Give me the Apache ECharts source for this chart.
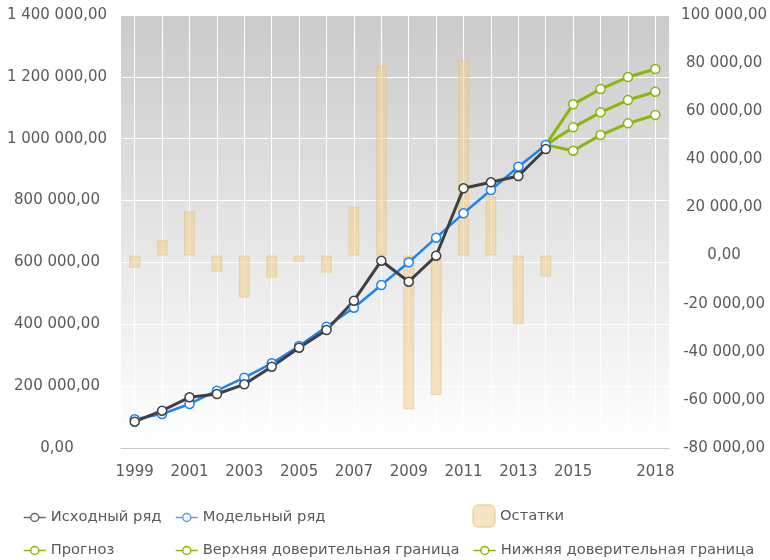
<!DOCTYPE html>
<html><head><meta charset="utf-8">
<script src="https://cdn.jsdelivr.net/npm/echarts@6/dist/echarts.min.js"></script>
<style>html,body{margin:0;padding:0;background:#fff}#c{width:770px;height:560px}</style>
</head><body><div id="c"></div>
<script>
const years = ['1999','2000','2001','2002','2003','2004','2005','2006','2007','2008','2009','2010','2011','2012','2013','2014','2015','2016','2017','2018'];
const actual = [85000,120600,163900,174600,205900,262900,324300,381500,476300,605600,537700,621700,839600,859000,879400,966700,null,null,null,null];
const model = [92800,109900,142300,185300,227300,273800,329800,392200,453600,527000,600300,680000,758800,834100,909500,979600,null,null,null,null];
const residuals = [-5100,6400,18400,-6700,-17500,-9200,-2700,-7100,20400,78800,-63900,-58000,81300,24700,-28600,-8700,null,null,null,null];
const forecast = [null,null,null,null,null,null,null,null,null,null,null,null,null,null,null,980000,1036700,1085300,1125100,1152000];
const upper = [null,null,null,null,null,null,null,null,null,null,null,null,null,null,null,980000,1111200,1160600,1199400,1225300];
const lower = [null,null,null,null,null,null,null,null,null,null,null,null,null,null,null,980000,961200,1011900,1049700,1076600];
const shownYearLabels = ['1999','2001','2003','2005','2007','2009','2011','2013','2015','2018'];
const names = {
  actual: 'Исходный ряд', model: 'Модельный ряд', resid: 'Остатки',
  forecast: 'Прогноз', upper: 'Верхняя доверительная граница', lower: 'Нижняя доверительная граница'
};

const FONT = 'DejaVu Sans';
const TXT = '#5a5a5a';
const GREEN = '#8ab70c';
const BLUE = '#1f84f2';
const DARK = '#404040';

function fmt(v) {
  const neg = v < 0;
  let s = Math.abs(Math.round(v)).toString().replace(/\B(?=(\d{3})+(?!\d))/g, ' ');
  return (neg ? '-' : '') + s + ',00';
}
function startHidden(arr) {
  const first = arr.findIndex(v => v != null);
  return arr.map((v, i) => i === first ? { value: v, symbol: 'none' } : v);
}
function lineSeries(name, data, color, width, z) {
  return {
    name, type: 'line', data, yAxisIndex: 0, z,
    symbol: 'circle', symbolSize: 9, showSymbol: true, connectNulls: false,
    lineStyle: { color, width },
    itemStyle: { color: '#ffffff', borderColor: color, borderWidth: 1.5 },
    emphasis: { disabled: true }, animation: false
  };
}
function legend(name, left, top, w, h, iconColor) {
  const l = {
    data: [name], left, top, padding: 0, itemWidth: w, itemHeight: h, itemGap: 0,
    selectedMode: false,
    textStyle: { fontFamily: FONT, fontSize: 14.7, color: TXT }
  };
  if (iconColor) {
    l.lineStyle = { color: iconColor, width: 1.5 };
    l.itemStyle = { borderColor: iconColor, borderWidth: 1.5 };
  }
  return l;
}

const chart = echarts.init(document.getElementById('c'), null, { renderer: 'canvas' });
chart.setOption({
  animation: false,
  grid: {
    left: 121, right: 98, top: 15, bottom: 112, show: true, borderWidth: 0,
    backgroundColor: new echarts.graphic.LinearGradient(0, 0, 0, 1, [
      { offset: 0, color: '#cbcbcb' }, { offset: 1, color: '#ffffff' }
    ])
  },
  legend: [
    legend(names.actual, 23, 510, 22, 10, '#666666'),
    legend(names.model, 175, 510, 22, 10, '#5a9cf0'),
    legend(names.resid, 472, 504, 22, 22),
    legend(names.forecast, 23, 543, 22, 10, GREEN),
    legend(names.upper, 175, 543, 22, 10, GREEN),
    legend(names.lower, 473, 543, 22, 10, GREEN)
  ],
  xAxis: {
    type: 'category', data: years, boundaryGap: true,
    axisLine: { onZero: false, lineStyle: { color: '#c8c8c8', width: 1 } },
    axisTick: { show: false, alignWithLabel: true },
    splitLine: { show: true, interval: 0, alignWithLabel: true, lineStyle: { color: '#ffffff', width: 1 } },
    axisLabel: {
      interval: 0, margin: 17, fontFamily: FONT, fontSize: 15, color: TXT,
      formatter: v => shownYearLabels.includes(v) ? v : ''
    }
  },
  yAxis: [
    {
      type: 'value', min: 0, max: 1400000, interval: 200000,
      axisLine: { show: false }, axisTick: { show: false },
      splitLine: { show: true, lineStyle: { color: '#ffffff', width: 1 } },
      axisLabel: { margin: 64, align: 'center', fontFamily: FONT, fontSize: 15, color: TXT, formatter: fmt }
    },
    {
      type: 'value', min: -80000, max: 100000, interval: 20000, position: 'right',
      axisLine: { show: false }, axisTick: { show: false }, splitLine: { show: false },
      axisLabel: { margin: 55, align: 'center', fontFamily: FONT, fontSize: 15, color: TXT, formatter: fmt }
    }
  ],
  series: [
    lineSeries(names.model, model, BLUE, 2.5, 2),
    {
      name: names.resid, type: 'bar', data: residuals, yAxisIndex: 1, barWidth: 11, z: 2,
      itemStyle: { color: 'rgba(240,205,140,0.55)', borderColor: 'rgba(225,190,120,0.45)', borderWidth: 1 },
      emphasis: { disabled: true }
    },
    lineSeries(names.forecast, startHidden(forecast), GREEN, 3, 2),
    lineSeries(names.upper, startHidden(upper), GREEN, 3, 2),
    lineSeries(names.lower, startHidden(lower), GREEN, 3, 2),
    lineSeries(names.actual, actual, DARK, 3, 2)
  ]
});
</script></body></html>
